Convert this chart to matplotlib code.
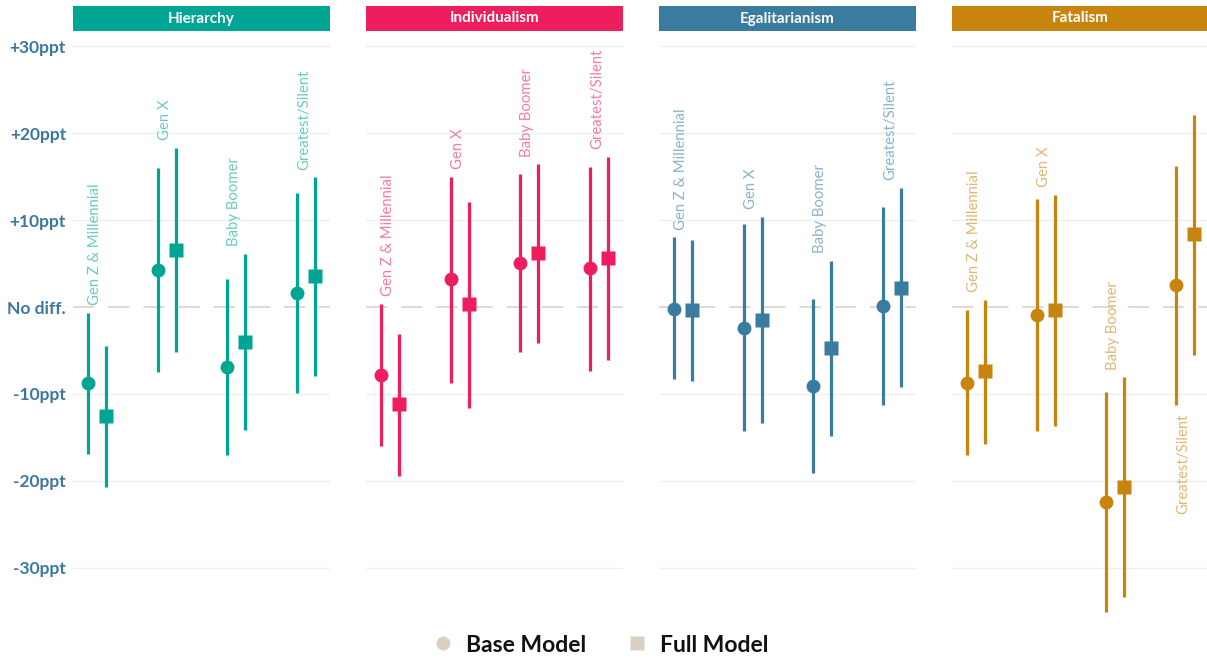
import matplotlib
matplotlib.use("Agg")
import matplotlib.pyplot as plt
from matplotlib.patches import Rectangle
from matplotlib.lines import Line2D
import numpy as np

plt.rcParams['font.family'] = ['Lato', 'DejaVu Sans']

# Worldview panels and generation cohorts
panels = ["Hierarchy", "Individualism", "Egalitarianism", "Fatalism"]
panel_colors = ["#00A693", "#EE1E5E", "#3A7BA0", "#C7850F"]
generations = ["Gen Z & Millennial", "Gen X", "Baby Boomer", "Greatest/Silent"]

# Estimated difference (ppt) with lower / upper interval bounds, per panel
base_est = [
    [-8.7, 4.3, -6.9, 1.6],
    [-7.8, 3.2, 5.1, 4.5],
    [-0.2, -2.4, -9.1, 0.15],
    [-8.7, -0.9, -22.4, 2.5],
]
base_lo = [
    [-16.9, -7.5, -17.0, -9.9],
    [-16.0, -8.7, -5.2, -7.3],
    [-8.3, -14.3, -19.1, -11.3],
    [-17.0, -14.2, -35.1, -11.3],
]
base_hi = [
    [-0.7, 16.0, 3.2, 13.1],
    [0.4, 15.0, 15.3, 16.1],
    [8.0, 9.5, 0.9, 11.5],
    [-0.4, 12.4, -9.8, 16.2],
]
full_est = [
    [-12.5, 6.6, -4.0, 3.6],
    [-11.2, 0.3, 6.2, 5.6],
    [-0.4, -1.5, -4.7, 2.2],
    [-7.4, -0.3, -20.7, 8.4],
]
full_lo = [
    [-20.7, -5.2, -14.1, -7.9],
    [-19.4, -11.6, -4.1, -6.1],
    [-8.5, -13.3, -14.8, -9.2],
    [-15.7, -13.7, -33.3, -5.5],
]
full_hi = [
    [-4.5, 18.3, 6.1, 14.9],
    [-3.1, 12.1, 16.4, 17.3],
    [7.7, 10.4, 5.3, 13.7],
    [0.8, 12.9, -8.1, 22.1],
]
# Where each cohort label sits relative to its intervals
label_side = [
    ["above", "above", "above", "above"],
    ["above", "above", "above", "above"],
    ["above", "above", "above", "above"],
    ["above", "above", "above", "below"],
]

y_ticks = [30, 20, 10, 0, -10, -20, -30]
y_tick_labels = ["+30ppt", "+20ppt", "+10ppt", "No diff.", "-10ppt", "-20ppt", "-30ppt"]
legend_labels = ["Base Model", "Full Model"]

tick_color = "#3D77A0"
neutral = "#D9D0C1"
grid_color = "#EFEFEF"


def tint(hex_color, amount):
    rgb = np.array(matplotlib.colors.to_rgb(hex_color))
    return tuple(rgb + (1 - rgb) * amount)


fig = plt.figure(figsize=(12.07, 6.58), dpi=100)
W, H = 1207, 658
panel_left_px = [73, 366, 659, 952]
panel_w_px = 257
ax_top_px, ax_bot_px = 33, 624.5

dodge = 0.13
xpos = np.arange(1, 5)

for p, name in enumerate(panels):
    ax = fig.add_axes([panel_left_px[p] / W, (H - ax_bot_px) / H,
                       panel_w_px / W, (ax_bot_px - ax_top_px) / H])
    col = panel_colors[p]
    ax.set_xlim(0.656, 4.344)
    ax.set_ylim(-36.5, 31.5)
    for s in ax.spines.values():
        s.set_visible(False)
    ax.set_xticks([])
    ax.set_yticks(y_ticks)
    ax.tick_params(axis='y', length=0, pad=5)
    if p == 0:
        ax.set_yticklabels(y_tick_labels, fontsize=12.5, fontweight='bold',
                           color=tick_color)
    else:
        ax.set_yticklabels([])
    for t in y_ticks:
        if t != 0:
            ax.axhline(t, color=grid_color, lw=1.0, zorder=0)
    ax.axhline(0, color=neutral, lw=1.1, dashes=(14, 9), zorder=1)

    xb = xpos - dodge
    xf = xpos + dodge
    ax.vlines(xb, base_lo[p], base_hi[p], color=col, lw=2.3, zorder=2)
    ax.vlines(xf, full_lo[p], full_hi[p], color=col, lw=2.3, zorder=2)
    ax.plot(xb, base_est[p], 'o', ms=10, color=col, mec='none', zorder=3)
    ax.plot(xf, full_est[p], 's', ms=10, color=col, mec='none', zorder=3)

    lab_col = tint(col, 0.42)
    for g, gen in enumerate(generations):
        if label_side[p][g] == "above":
            y = max(base_hi[p][g], full_hi[p][g]) + 0.9
            va = 'bottom'
        else:
            y = min(base_lo[p][g], full_lo[p][g]) - 0.9
            va = 'top'
        ax.text(xpos[g] - 0.03, y, gen, rotation=90, ha='center', va=va,
                fontsize=10.7, color=lab_col)

    # Panel title strip
    strip_h = 25 / (ax_bot_px - ax_top_px)
    gap = 2 / (ax_bot_px - ax_top_px)
    ax.add_patch(Rectangle((0, 1 + gap), 1, strip_h, transform=ax.transAxes,
                           facecolor=col, edgecolor='none', clip_on=False))
    ax.text(0.5, 1 + gap + strip_h / 2, name, transform=ax.transAxes,
            ha='center', va='center', fontsize=11, fontweight='bold',
            color='white')

handles = [
    Line2D([], [], marker='o', ls='none', ms=10, color=neutral, mec='none'),
    Line2D([], [], marker='s', ls='none', ms=10, color=neutral, mec='none'),
]
leg = fig.legend(handles, legend_labels, loc='center', bbox_to_anchor=(0.497, 1 - 645 / H),
                 ncol=2, frameon=False, handlelength=1.0, handletextpad=0.5,
                 columnspacing=1.75,
                 prop={'family': 'Lato', 'weight': 'bold', 'size': 16.5})
for t in leg.get_texts():
    t.set_color('#111111')

fig.savefig("out.png", dpi=100, facecolor='white')
